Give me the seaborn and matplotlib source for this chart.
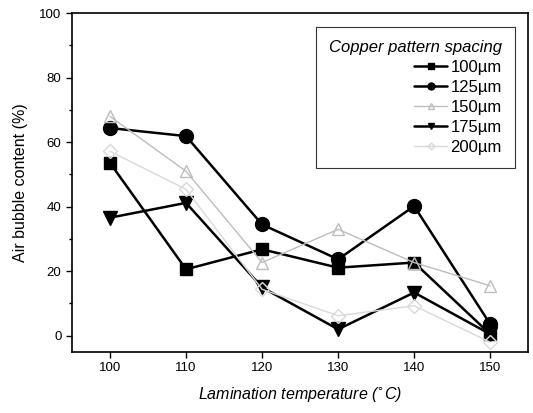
import matplotlib
matplotlib.use("Agg")
import matplotlib.pyplot as plt
import seaborn as sns
import pandas as pd

temps = [100, 110, 120, 130, 140, 150]
s100 = [53.6, 20.6, 26.8, 21.1, 22.7, 0.5]
s125 = [64.4, 61.9, 34.5, 23.7, 40.2, 3.6]
s150 = [68.0, 51.0, 22.7, 33.0, 22.7, 15.5]
s175 = [36.6, 41.2, 15.0, 2.0, 13.4, 0.5]
s200 = [57.2, 45.4, 14.4, 6.2, 9.3, -2.0]
labels = ["100µm", "125µm", "150µm", "175µm", "200µm"]
series = [s100, s125, s150, s175, s200]

rows = []
for lab, vals in zip(labels, series):
    for t, v in zip(temps, vals):
        rows.append({"Temp": t, "Value": v, "Spacing": lab})
df = pd.DataFrame(rows)

sns.set_style("ticks")
plt.rcParams["font.family"] = ["Liberation Sans", "DejaVu Sans"]
for k in ["text.color", "axes.labelcolor", "xtick.color", "ytick.color", "axes.edgecolor"]:
    plt.rcParams[k] = "black"

fig = plt.figure(figsize=(5.33, 4.13), dpi=100)
ax = fig.add_axes([0.135, 0.148, 0.856, 0.82])

colors = ["black", "black", "#bdbdbd", "black", "#d9d9d9"]
markers = ["s", "o", "^", "v", "D"]
msizes = [9, 10, 9, 10, 7]
lws = [1.8, 1.8, 1.0, 1.8, 1.0]
for lab, c, m, ms, lw in zip(labels, colors, markers, msizes, lws):
    sub = df[df["Spacing"] == lab]
    sns.lineplot(data=sub, x="Temp", y="Value", ax=ax, color=c, marker=m,
                 markersize=ms, linewidth=lw, markeredgecolor=c,
                 markerfacecolor=c if c == "black" else "none",
                 markeredgewidth=1.0, label=lab, legend=False)

handles = ax.get_lines()
leg = ax.legend(handles, labels, title="Copper pattern spacing", loc="upper right",
                bbox_to_anchor=(0.99, 0.985), fontsize=12, title_fontsize=12,
                frameon=True, fancybox=False, edgecolor="black",
                handlelength=2.0, handletextpad=0.2, labelspacing=0.3,
                borderpad=0.8, markerscale=0.5)
leg.get_title().set_fontstyle("italic")
leg.get_frame().set_linewidth(0.8)
leg._legend_box.align = "right"

ax.set_xlim(95, 155)
ax.set_ylim(-5, 100)
ax.set_xticks(temps)
ax.set_yticks([0, 20, 40, 60, 80, 100])
ax.set_yticks([10, 30, 50, 70, 90], minor=True)
ax.tick_params(axis="both", which="major", labelsize=9.5, direction="out", length=4, width=1)
ax.tick_params(axis="y", which="minor", direction="out", length=2.5, width=1)
for sp in ax.spines.values():
    sp.set_linewidth(1.2)
    sp.set_visible(True)
ax.set_xlabel("Lamination temperature ($^{\\circ}$C)", fontsize=11.5, fontstyle="italic", labelpad=8)
ax.set_ylabel("Air bubble content (%)", fontsize=11.5, labelpad=8)

fig.savefig("out.png", dpi=100)
